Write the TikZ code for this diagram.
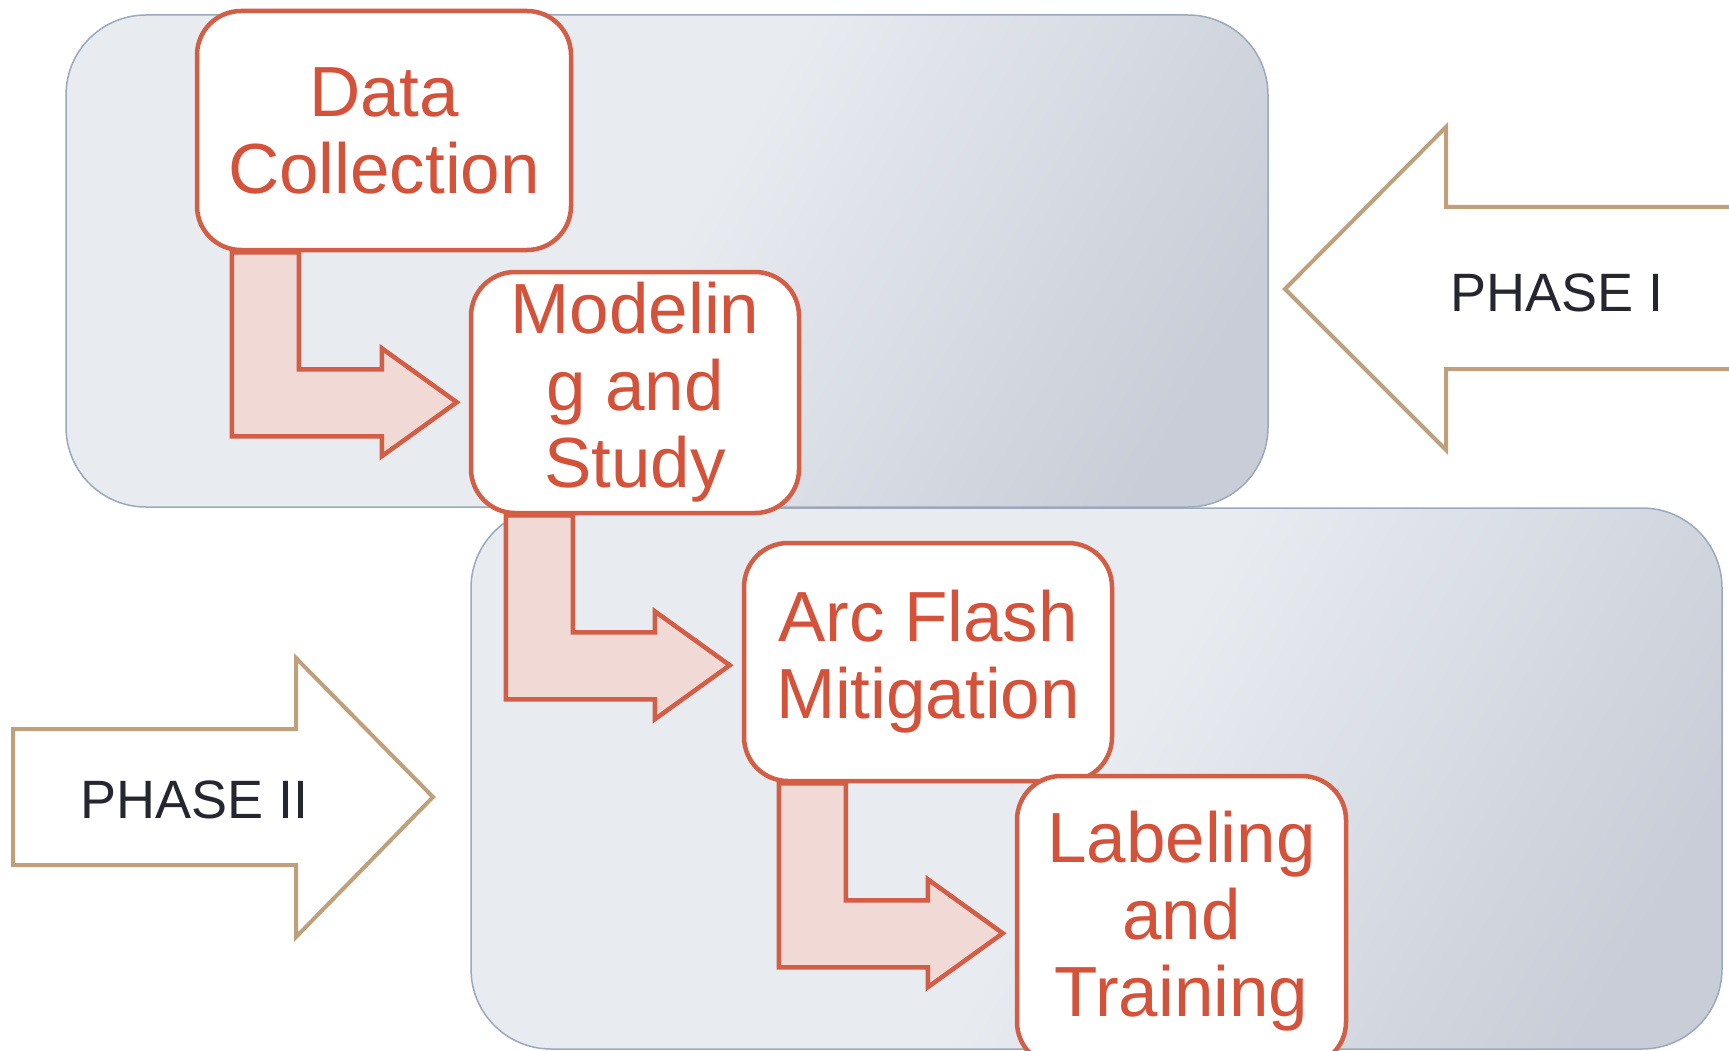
\documentclass[tikz,border=0pt]{standalone}
\usepackage{fontspec}
\setmainfont{Liberation Sans}
\usetikzlibrary{calc,backgrounds}
\definecolor{panelA}{HTML}{E8EBF0}
\definecolor{panelB}{HTML}{C8CDD7}
\definecolor{panelline}{HTML}{9BA9BC}
\definecolor{boxline}{HTML}{D35E45}
\definecolor{boxtext}{HTML}{D4513A}
\definecolor{bentfill}{HTML}{F1D9D5}
\definecolor{phaseline}{HTML}{C0A07A}
\definecolor{phasetext}{HTML}{262631}
\pgfdeclarehorizontalshading{panelshade}{100bp}{color(0bp)=(panelA); color(25bp)=(panelA);
  color(50bp)=(panelA); color(78bp)=(panelB); color(100bp)=(panelB)}

\begin{document}
\begin{tikzpicture}[x=1pt,y=-1pt,
  panel/.style={draw=panelline,line width=1.5pt,rounded corners=80pt,
    shading=panelshade,shading angle=-30},
  stage/.style={draw=boxline,line width=4.5pt,fill=white,rounded corners=44pt,
    inner sep=0pt,align=center,text=boxtext,font=\fontsize{71}{77}\selectfont},
  bent/.style={draw=boxline,line width=4.5pt,fill=bentfill},
  phase/.style={draw=phaseline,line width=4pt,fill=white},
  phaselabel/.style={text=phasetext,font=\fontsize{54}{60}\selectfont,
    inner sep=0pt,anchor=base west}]
  \useasboundingbox (0,0) rectangle (1729,1051);
  \clip (0,0) rectangle (1729,1051);
  % phase banners
  \draw[phase] (13,729) -- (296,729) -- (296,658) -- (433,797) -- (296,937)
    -- (296,865) -- (13,865) -- cycle;
  \draw[phase] (1745,207) -- (1446,207) -- (1446,127) -- (1285,289)
    -- (1446,450) -- (1446,369) -- (1745,369);
  \node[phaselabel] (p1) at (1450,311) {PHASE I};
  \node[phaselabel] (p2) at (80,818) {PHASE II};
  % stages
  \node[stage,minimum width=374pt,minimum height=239pt] (data) at (384,130.5) {Data\\Collection};
  \node[stage,minimum width=328pt,minimum height=241pt] (model) at (635,392.5) {Modelin\\g and\\Study};
  \node[stage,minimum width=368pt,minimum height=238pt] (arc) at (928,662) {Arc Flash\\Mitigation};
  \node[stage,minimum width=329pt,minimum height=290pt] (label) at (1181.5,921) {Labeling\\and\\Training};
  \begin{scope}[on background layer]
    \shadedraw[panel] (66,15) rectangle (1268,507);
    \shadedraw[panel] (471,508) rectangle (1722,1049);
    \foreach \a/\b in {data/model,model/arc,arc/label}{
      \coordinate (s) at ($(\a.south west)+(37,0)$);
      \coordinate (t) at ($(\b.west |- s)+(-12,150)$);
      \draw[bent] (s) -- ++(0,184) -| ($(t)+(-75,54)$) -- (t)
        -- ($(t)+(-75,-54)$) |- ($(s)+(67,117)$) -- ++(0,-117) -- cycle;
    }
  \end{scope}
\end{tikzpicture}
\end{document}
